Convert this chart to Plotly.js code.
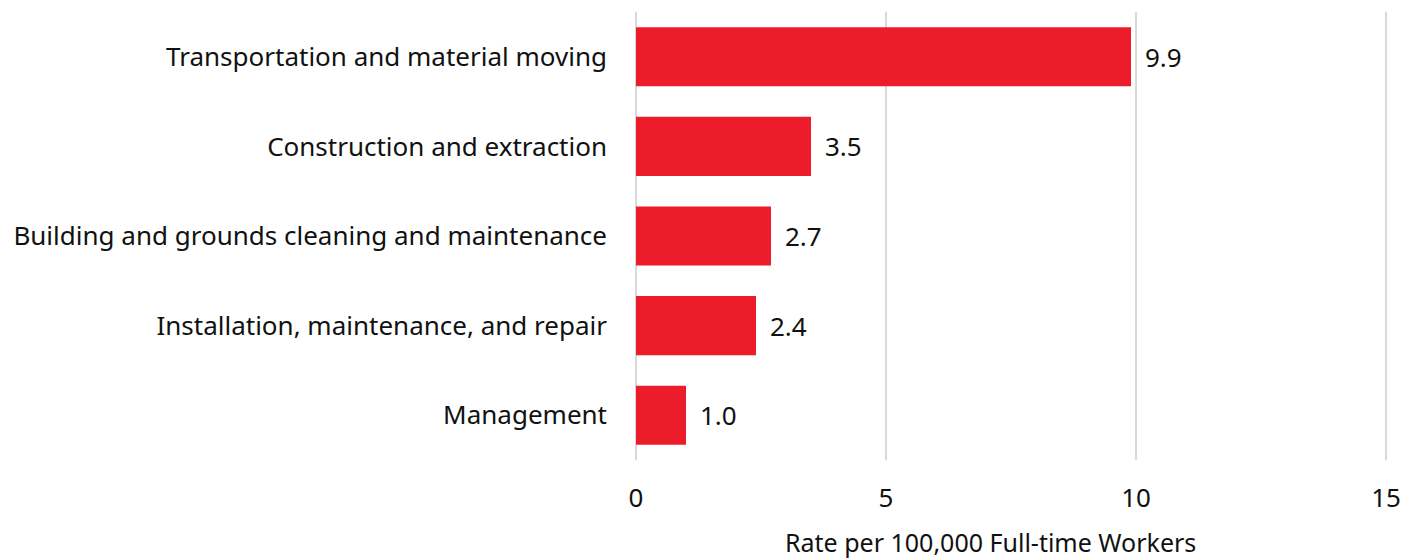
<!DOCTYPE html>
<html>
<head>
<meta charset="utf-8">
<script src="https://cdn.plot.ly/plotly-3.0.1.min.js"></script>
<style>html,body{margin:0;padding:0;background:#fff;}#chart{width:1418px;height:559px;}</style>
</head>
<body>
<div id="chart"></div>
<script>
const categories = [
  "Transportation and material moving",
  "Construction and extraction",
  "Building and grounds cleaning and maintenance",
  "Installation, maintenance, and repair",
  "Management"
];
const rates = [9.9, 3.5, 2.7, 2.4, 1.0];
const xTicks = [0, 5, 10, 15];
const xTitle = "Rate per 100,000 Full-time Workers";

const FONT = "Segoe UI, Noto Sans, Open Sans, sans-serif";

const trace = {
  type: "bar",
  orientation: "h",
  x: rates,
  y: categories,
  marker: {color: "#ED1C2B", line: {width: 0}},
  hoverinfo: "skip"
};

const annotations = rates.map((v, i) => ({
  x: v, y: categories[i], xref: "x", yref: "y",
  text: v.toFixed(1), showarrow: false,
  xanchor: "left", yanchor: "middle", xshift: 12,
  font: {family: FONT, size: 26, color: "#111"}
}));
annotations.push({
  xref: "paper", yref: "paper", x: 0.4729, y: 0,
  xanchor: "center", yanchor: "middle", yshift: -82,
  text: xTitle, showarrow: false,
  font: {family: FONT, size: 25, color: "#111"}
});

const layout = {
  width: 1418, height: 559,
  margin: {l: 633, r: 29, t: 12, b: 99},
  paper_bgcolor: "#fff", plot_bgcolor: "#fff",
  showlegend: false,
  bargap: 0.34,
  font: {family: FONT, size: 26, color: "#111"},
  xaxis: {
    range: [-0.06, 15.06],
    tickvals: xTicks,
    ticktext: xTicks.map(String),
    showgrid: true, gridcolor: "#d9d9d9", gridwidth: 2,
    zeroline: false, showline: false,
    ticks: "", ticklabelstandoff: 20,
    tickfont: {family: FONT, size: 26, color: "#111"}
  },
  yaxis: {
    autorange: "reversed",
    showgrid: false, zeroline: false, showline: false,
    ticks: "", ticklabelstandoff: 25,
    tickfont: {family: FONT, size: 26, color: "#111"}
  },
  annotations: annotations
};

Plotly.newPlot("chart", [trace], layout, {staticPlot: true, displayModeBar: false});
</script>
</body>
</html>
